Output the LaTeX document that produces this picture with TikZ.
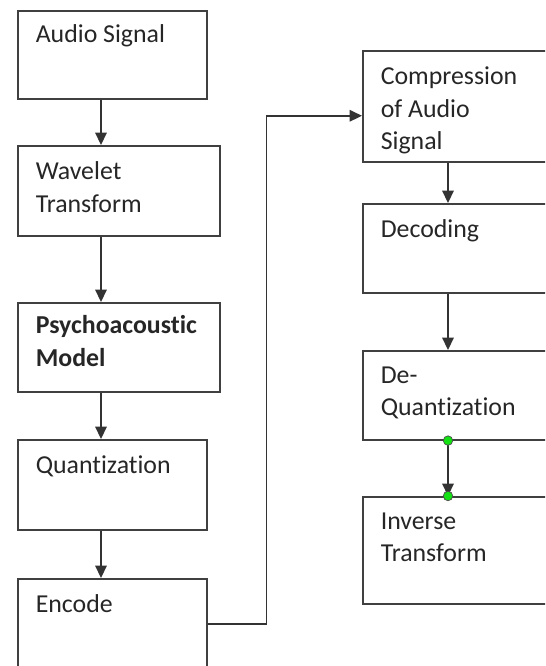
\documentclass[tikz,border=0pt]{standalone}
\usepackage{fontspec}
\setmainfont{Carlito}[Ligatures=NoCommon]
\usetikzlibrary{positioning, arrows.meta, shapes}
\definecolor{dotgreen}{RGB}{20,225,20}

\begin{document}
\begin{tikzpicture}
            [x=0.02cm, y=-0.02cm,
             stage/.style={draw=black!75, line width=0.9pt, rectangle, anchor=north west, inner sep=0pt},
             caption/.style={anchor=north west, align=left, inner sep=0pt, text=black!85,
                             font=\fontsize{14.7}{18.5}\selectfont},
             dot/.style={circle, draw=black!70, line width=0.4pt, fill=dotgreen, inner sep=0pt, minimum size=0.19cm},
             line width=0.9pt, draw=black!80, >={Triangle[length=7pt, width=6.5pt]}]
            \useasboundingbox (0,0) rectangle (545,666);
            \clip (0,0) rectangle (545,666);

            % left column
            \node[stage, minimum width=3.78cm, minimum height=1.76cm] (audio) at (17,10) {};
            \node[stage, minimum width=4.04cm, minimum height=1.8cm] (wave) at (17,145) {};
            \node[stage, minimum width=4.04cm, minimum height=1.78cm] (psy) at (17,302) {};
            \node[stage, minimum width=3.78cm, minimum height=1.8cm] (quant) at (17,439) {};
            \node[stage, minimum width=3.78cm, minimum height=1.8cm] (enc) at (17,578) {};

            % right column
            \node[stage, minimum width=3.96cm, minimum height=2.22cm] (comp) at (362,50) {};
            \node[stage, minimum width=3.96cm, minimum height=1.78cm] (dec) at (362,203) {};
            \node[stage, minimum width=3.96cm, minimum height=1.78cm] (dequant) at (362,350) {};
            \node[stage, minimum width=3.96cm, minimum height=2.14cm] (inv) at (362,496) {};

            % texts
            \node[caption] (audiotxt) at ([xshift=0.36cm, yshift=-0.28cm]audio.north west) {Audio Signal};
            \node[caption] (wavetxt) at ([xshift=0.36cm, yshift=-0.32cm]wave.north west) {Wavelet\\Transform};
            \node[caption] (psytxt) at ([xshift=0.36cm, yshift=-0.26cm]psy.north west) {\bfseries Psychoacoustic\\\bfseries Model};
            \node[caption] (quanttxt) at ([xshift=0.36cm, yshift=-0.32cm]quant.north west) {Quantization};
            \node[caption] (enctxt) at ([xshift=0.36cm, yshift=-0.32cm]enc.north west) {Encode};
            \node[caption] (comptxt) at ([xshift=0.36cm, yshift=-0.32cm]comp.north west) {Compression\\of Audio\\Signal};
            \node[caption] (dectxt) at ([xshift=0.36cm, yshift=-0.32cm]dec.north west) {Decoding};
            \node[caption] (dequanttxt) at ([xshift=0.36cm, yshift=-0.32cm]dequant.north west) {De-\\Quantization};
            \node[caption] (invtxt) at ([xshift=0.36cm, yshift=-0.32cm]inv.north west) {Inverse\\Transform};

            \coordinate (lx) at (101,0);
            \coordinate (rx) at (448,0);

            \draw[->] (lx |- audio.south) -- (lx |- wave.north);
            \draw[->] (lx |- wave.south) -- (lx |- psy.north);
            \draw[->] (lx |- psy.south) -- (lx |- quant.north);
            \draw[->] (lx |- quant.south) -- (lx |- enc.north);

            \draw[->] (enc.east) -- ++(59,0) |- ([yshift=-0.19cm]comp.west);

            \draw[->] (rx |- comp.south) -- (rx |- dec.north);
            \draw[->] (rx |- dec.south) -- (rx |- dequant.north);
            \draw[->] (rx |- dequant.south) -- (rx |- inv.north);
            \node[dot] (d1) at (rx |- dequant.south) {};
            \node[dot] (d2) at (rx |- inv.north) {};
        \end{tikzpicture}
\end{document}
